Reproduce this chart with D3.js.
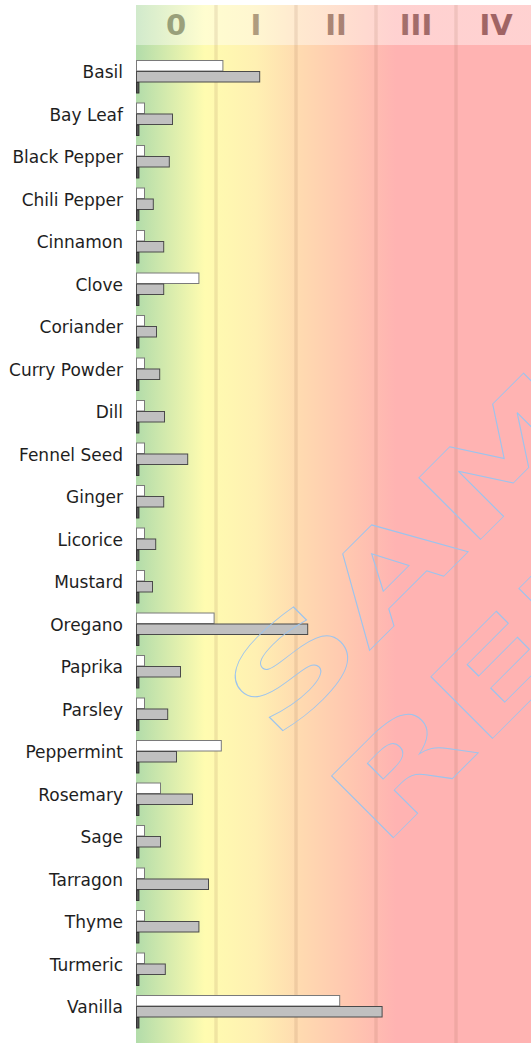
<!doctype html>
<html>
  <head>
    <script src="https://cdnjs.cloudflare.com/ajax/libs/d3/7.8.5/d3.min.js"></script>
    <style>
      body { margin: 0; background: #fff; }
      svg { display: block; }
      .label { font-family: "DejaVu Sans", sans-serif; font-size: 17px; fill: #1e1e1e; }
      .zone { font-family: "DejaVu Sans", sans-serif; font-size: 29px; font-weight: bold; }
    </style>
  </head>
  <body>
    <svg id="chart" width="531" height="1043"></svg>
    <script>
      // data
      var spices = ["Basil", "Bay Leaf", "Black Pepper", "Chili Pepper", "Cinnamon", "Clove", "Coriander",
        "Curry Powder", "Dill", "Fennel Seed", "Ginger", "Licorice", "Mustard", "Oregano", "Paprika",
        "Parsley", "Peppermint", "Rosemary", "Sage", "Tarragon", "Thyme", "Turmeric", "Vanilla"];
      var seriesA = [1.08, 0.10, 0.10, 0.10, 0.10, 0.78, 0.10, 0.10, 0.10, 0.10, 0.10, 0.10, 0.10,
        0.97, 0.10, 0.10, 1.06, 0.30, 0.10, 0.10, 0.10, 0.10, 2.54];
      var seriesB = [1.54, 0.45, 0.41, 0.21, 0.34, 0.34, 0.25, 0.29, 0.35, 0.64, 0.34, 0.24, 0.20,
        2.14, 0.55, 0.39, 0.50, 0.70, 0.30, 0.90, 0.78, 0.36, 3.07];
      var seriesC = [0.03, 0.03, 0.03, 0.03, 0.03, 0.03, 0.03, 0.03, 0.03, 0.03, 0.03, 0.03, 0.03,
        0.03, 0.03, 0.03, 0.03, 0.03, 0.03, 0.03, 0.03, 0.03, 0.03];
      var zoneLabels = ["0", "I", "II", "III", "IV"];
      var gridValues = [1, 2, 3, 4];

      var svg = d3.select("svg#chart");

      var x = d3.scaleLinear().domain([0, 5]).range([136, 536]);
      var y = d3.scaleBand().domain(spices).range([55.25, 1032.75]).paddingInner(0.224).paddingOuter(0.112);
      var sub = d3.scaleBand().domain([0, 1, 2]).range([0, y.bandwidth()]);

      var defs = svg.append("defs");
      function addGradient(id, stops) {
        var g = defs.append("linearGradient").attr("id", id)
          .attr("gradientUnits", "userSpaceOnUse")
          .attr("x1", x(0)).attr("x2", x(5)).attr("y1", 0).attr("y2", 0);
        g.selectAll("stop").data(stops).enter().append("stop")
          .attr("offset", d => d[0] / 5)
          .attr("stop-color", d => d[1]);
      }
      // background, green -> yellow -> peach -> pink
      addGradient("bg", [[0, "#b2dcaa"], [0.86, "#fffcb0"], [1.5, "#fff0b2"], [2.05, "#ffdab0"],
        [2.7, "#ffc6b0"], [3.25, "#ffb3b2"], [5, "#ffb3b2"]]);
      // darker tones for the zone numerals
      addGradient("zoneText", [[0.3, "#94a07a"], [0.7, "#9ea07c"], [1.5, "#b09c7e"], [2.5, "#aa8474"],
        [3.5, "#a26c6a"], [4.5, "#a06464"]]);

      // header strip
      svg.append("rect").attr("x", x(0)).attr("y", 5).attr("width", x(5) - x(0)).attr("height", 40)
        .attr("fill", "url(#bg)").attr("opacity", 0.6);
      // plot area
      svg.append("rect").attr("x", x(0)).attr("y", 45).attr("width", x(5) - x(0)).attr("height", 1000)
        .attr("fill", "url(#bg)");

      svg.selectAll("line.grid").data(gridValues).enter().append("line")
        .attr("class", "grid")
        .attr("x1", d => x(d)).attr("x2", d => x(d))
        .attr("y1", 5).attr("y2", 1043)
        .attr("stroke", "#8a5a3a").attr("stroke-opacity", 0.13).attr("stroke-width", 3.5);

      svg.selectAll("text.zone").data(zoneLabels).enter().append("text")
        .attr("class", "zone")
        .attr("x", (d, i) => x(i + 0.5))
        .attr("y", 35)
        .attr("text-anchor", "middle")
        .attr("fill", "url(#zoneText)")
        .text(d => d);

      // bars
      var styles = [
        { fill: "#ffffff", stroke: "#7a7a7a" },
        { fill: "#c0c0c0", stroke: "#4a4a4a" },
        { fill: "#555555", stroke: "#333333" }
      ];
      var all = [seriesA, seriesB, seriesC];
      all.forEach(function(vals, s) {
        svg.selectAll("rect.s" + s).data(vals).enter().append("rect")
          .attr("class", "s" + s)
          .attr("x", x(0) + 0.5)
          .attr("y", (d, i) => y(spices[i]) + sub(s) + 0.5)
          .attr("width", d => x(d) - x(0))
          .attr("height", sub.bandwidth() - 0.5)
          .attr("fill", styles[s].fill)
          .attr("stroke", styles[s].stroke)
          .attr("stroke-width", 1);
      });

      svg.selectAll("text.label").data(spices).enter().append("text")
        .attr("class", "label")
        .attr("x", 123)
        .attr("y", d => y(d) + 18)
        .attr("text-anchor", "end")
        .text(d => d);

      // watermark
      var wm = svg.append("g")
        .attr("transform", "translate(276,744) rotate(-45) scale(1.6,1.05)")
        .attr("fill", "none").attr("stroke", "#9cc4ee").attr("stroke-width", 1);
      ["SAMPLE", "REPORT"].forEach(function(w, i) {
        wm.append("text")
          .attr("x", 0).attr("y", i * 142)
          .style("font-family", "DejaVu Sans").style("font-weight", "bold").style("font-size", "114px")
          .attr("vector-effect", "non-scaling-stroke")
          .text(w);
      });
    </script>
  </body>
</html>
